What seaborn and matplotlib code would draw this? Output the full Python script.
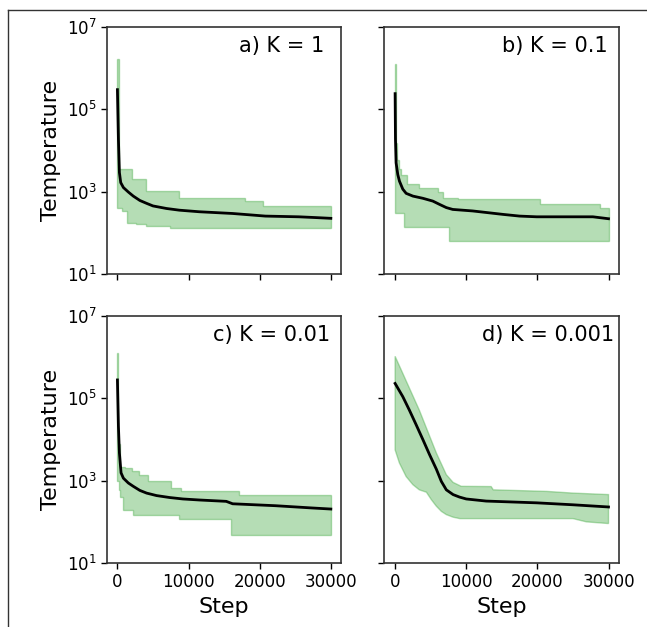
import numpy as np
import pandas as pd
import seaborn as sns
import matplotlib.pyplot as plt
from matplotlib.lines import Line2D

panel_labels = ["a) K = 1", "b) K = 0.1", "c) K = 0.01", "d) K = 0.001"]

# median curves
a_med_x = [0, 140, 280, 465, 840, 1530, 2230, 3160, 4100, 5000, 6900, 8700,
           11500, 16200, 19000, 20800, 25500, 27800, 30000]
a_med_y = [3e5, 1.9e4, 2.9e3, 1.66e3, 1.26e3, 980, 780, 610, 520, 450, 390, 355,
           325, 295, 270, 255, 245, 235, 225]
b_med_x = [0, 50, 140, 375, 610, 1080, 1550, 2500, 3900, 5300, 6250, 7200, 8100,
           10900, 15200, 17500, 19900, 27800, 30000]
b_med_y = [2.4e5, 1.9e4, 5e3, 2.6e3, 1.8e3, 1.15e3, 910, 780, 690, 590, 490, 410, 370,
           340, 280, 255, 245, 245, 220]
c_med_x = [0, 140, 280, 510, 840, 1530, 2230, 3160, 4100, 5500, 7350, 9200,
           11500, 15300, 16200, 22200, 27300, 30000]
c_med_y = [2.8e5, 2.1e4, 4.7e3, 1.55e3, 1.15e3, 880, 730, 580, 500, 435, 390, 360,
           340, 315, 275, 247, 218, 205]
d_med_x = [0, 1080, 2000, 2950, 3900, 4840, 5800, 6500, 7200, 8150, 9060, 10000,
           12800, 19900, 25000, 30000]
d_med_y = [2.3e5, 1.1e5, 5.2e4, 2.3e4, 1e4, 4.3e3, 1.9e3, 960, 600, 460, 400, 360,
           320, 290, 260, 230]

# band edges (a-c are stepwise, d is smooth)
a_up_x = [0, 250, 2000, 4000, 8650, 17900, 20500, 30000]
a_up_y = [1.7e6, 3.5e3, 2e3, 1.05e3, 710, 590, 450, 450]
a_lo_x = [0, 600, 1300, 2600, 4000, 7400, 30000]
a_lo_y = [410, 330, 175, 165, 150, 130, 130]
b_up_x = [0, 100, 250, 500, 800, 1650, 3400, 6000, 6700, 8900, 20400, 28800, 30000]
b_up_y = [1.27e6, 1.5e4, 6e3, 3.5e3, 2.5e3, 1.5e3, 1.2e3, 1e3, 710, 650, 490, 400, 400]
b_lo_x = [0, 1180, 7550, 30000]
b_lo_y = [300, 137, 63, 63]
c_up_x = [0, 150, 300, 1000, 2000, 3000, 4300, 7600, 9000, 17100, 30000]
c_up_y = [1.25e6, 8e3, 2.2e3, 2e3, 1.7e3, 1.4e3, 960, 660, 575, 455, 455]
c_lo_x = [0, 200, 400, 850, 2200, 8700, 16000, 30000]
c_lo_y = [1e3, 600, 400, 190, 144, 120, 49, 49]
d_up_x = [0, 3400, 5800, 7200, 8150, 9300, 13500, 13800, 21300, 25000, 30000]
d_up_y = [1.05e6, 5.2e4, 4.7e3, 1.4e3, 910, 730, 720, 600, 550, 500, 460]
d_lo_x = [0, 600, 1550, 2500, 3400, 4400, 5100, 5800, 6500, 7200, 8150, 9100,
          25000, 26900, 30000]
d_lo_y = [5.6e3, 2.7e3, 1.26e3, 800, 600, 525, 345, 240, 180, 150, 130, 120,
          120, 100, 91]

panels = [
    (a_med_x, a_med_y, a_up_x, a_up_y, a_lo_x, a_lo_y, True),
    (b_med_x, b_med_y, b_up_x, b_up_y, b_lo_x, b_lo_y, True),
    (c_med_x, c_med_y, c_up_x, c_up_y, c_lo_x, c_lo_y, True),
    (d_med_x, d_med_y, d_up_x, d_up_y, d_lo_x, d_lo_y, False),
]
label_x = [0.928, 0.949, 0.953, 0.979]


def step_outline(xs, ys):
    # post-step outline of an edge
    px, py = [xs[0]], [ys[0]]
    for i in range(1, len(xs)):
        px += [xs[i], xs[i]]
        py += [ys[i - 1], ys[i]]
    return px, py


plt.rcParams["font.family"] = ["DejaVu Sans"]

fig, axes = plt.subplots(2, 2, figsize=(6.47, 6.27), dpi=100, sharex=True, sharey=True)
fig.subplots_adjust(left=0.165, right=0.957, top=0.957, bottom=0.102, wspace=0.183, hspace=0.17)
axes = axes.flatten()

for i, (mx, my, ux, uy, lx, ly, stepped) in enumerate(panels):
    ax = axes[i]
    if stepped:
        ux, uy = step_outline(ux, uy)
        lx, ly = step_outline(lx, ly)
    ax.fill(list(ux) + list(lx)[::-1], list(uy) + list(ly)[::-1],
            color="tab:green", alpha=0.35, lw=1)
    df = pd.DataFrame({"Step": mx, "Temperature": my})
    sns.lineplot(data=df, x="Step", y="Temperature", color="black", lw=2, ax=ax)
    ax.set_yscale("log")
    ax.set_ylim(1e1, 1e7)
    ax.set_yticks([1e1, 1e3, 1e5, 1e7])
    ax.minorticks_off()
    ax.set_xticks([0, 10000, 20000, 30000])
    ax.tick_params(labelsize=12, length=4, width=1)
    for s in ax.spines.values():
        s.set_linewidth(1.2)
        s.set_color("#333333")
    ax.text(label_x[i], 0.963, panel_labels[i], transform=ax.transAxes,
            ha="right", va="top", fontsize=15)
    ax.set_xlabel("Step" if i >= 2 else "", fontsize=16)
    ax.set_ylabel("Temperature" if i % 2 == 0 else "", fontsize=16)

# frame edges of the original figure
fig.add_artist(Line2D([8 / 647, 1], [1 - 10 / 627, 1 - 10 / 627], color="#333333", lw=1))
fig.add_artist(Line2D([8 / 647, 8 / 647], [0, 1 - 10 / 627], color="#333333", lw=1))

fig.savefig("out.png", dpi=100)
